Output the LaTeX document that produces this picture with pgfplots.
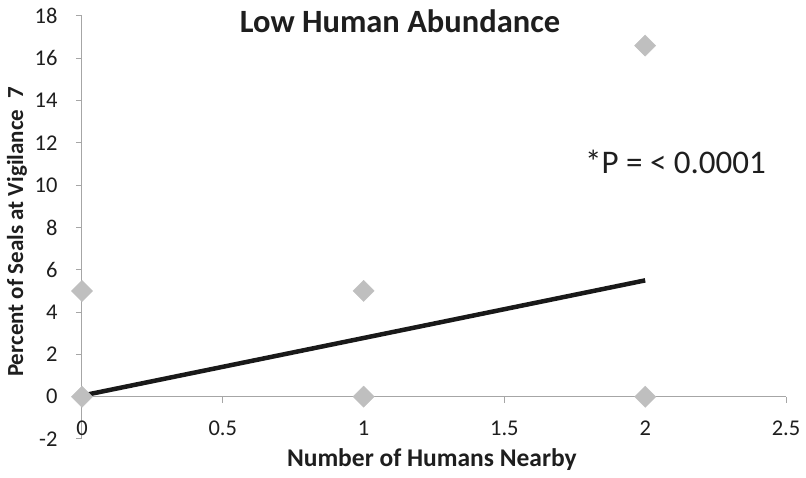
\documentclass[border=0pt]{standalone}
\usepackage{fontspec}
\setmainfont{Carlito}
\usepackage{pgfplots}
\pgfplotsset{compat=1.18}
\definecolor{axgray}{HTML}{A6A6A6}
\definecolor{ptgray}{HTML}{BFBFBF}
\definecolor{txt}{HTML}{1E1E1E}
\begin{document}
\begin{tikzpicture}
\begin{axis}[
  name=ax,
  scale only axis, width=704pt, height=423pt,
  xmin=0, xmax=2.5, ymin=-2, ymax=18,
  axis y line=left, axis x line=middle,
  axis line style={-, draw=axgray, line width=1pt},
  hide obscured x ticks=false, hide obscured y ticks=false,
  xtick={0,0.5,1,1.5,2,2.5}, ytick={-2,0,2,4,6,8,10,12,14,16,18},
  tick align=outside, major tick length=6pt,
  tick style={axgray, line width=1pt},
  xticklabel style={yshift=-15pt},
  yticklabel style={xshift=-15pt},
  /pgf/number format/assume math mode=true,
  every tick label/.append style={font=\fontsize{22.5}{26}\selectfont, text=txt},
  xlabel={Number of Humans Nearby},
  xlabel style={at={(axis description cs:0.497,-0.064)}, anchor=base, font=\bfseries\fontsize{25.5}{30}\selectfont, text=txt},
  ylabel={Percent of Seals at Vigilance\enspace 7},
  ylabel style={at={(axis description cs:-0.0923,0.49)}, anchor=center, rotate=0, font=\bfseries\fontsize{23}{27}\selectfont, text=txt},
  title={Low Human Abundance},
  title style={at={(axis description cs:0.4517,0.947)}, anchor=base, font=\bfseries\fontsize{32.5}{36}\selectfont, text=txt},
  clip=false,
]
\addplot[only marks, mark=square*, mark size=7.5pt, mark options={rotate=45, fill=ptgray, draw=ptgray}]
  coordinates {(0,0) (0,5) (1,5) (1,0) (2,16.6) (2,0)};
\addplot[line width=4.5pt, color=black!90] coordinates {(0,0.05) (2,5.5)};
\node[anchor=base west, inner sep=0, font=\fontsize{33}{38}\selectfont, text=txt] at (rel axis cs:0.7145,0.6265) {*P = < 0.0001};
\end{axis}
\path (ax.south west) ++(-82pt,-39pt) rectangle ++(806pt,478pt);
\end{tikzpicture}
\end{document}
